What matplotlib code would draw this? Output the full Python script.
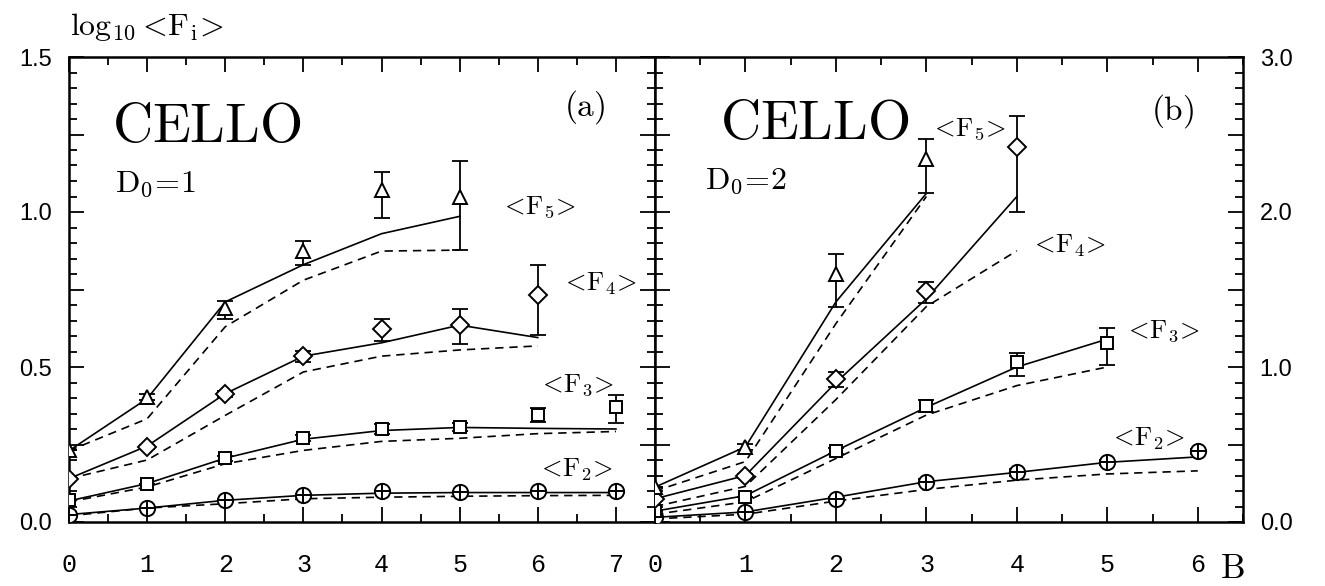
import matplotlib
matplotlib.use('Agg')
import matplotlib.pyplot as plt
from matplotlib.ticker import MultipleLocator, FuncFormatter

plt.rcParams['mathtext.fontset'] = 'cm'

# ---- panel (a): D0 = 1 ----
b_a = [0, 1, 2, 3, 4, 5, 6, 7]

f2_a = [0.024, 0.045, 0.070, 0.088, 0.100, 0.097, 0.100, 0.100]
f2_a_dn = [0, 0, 0, 0, 0, 0, 0, 0]
f2_a_up = [0, 0, 0, 0, 0, 0, 0, 0]
f2_a_solid = [0.024, 0.045, 0.070, 0.086, 0.093, 0.095, 0.095, 0.095]
f2_a_dash = [0.020, 0.045, 0.059, 0.075, 0.080, 0.083, 0.085, 0.086]

f3_a = [0.070, 0.124, 0.206, 0.270, 0.300, 0.306, 0.345, 0.370]
f3_a_dn = [0, 0, 0.008, 0.010, 0.016, 0.012, 0.022, 0.050]
f3_a_up = [0, 0, 0.008, 0.010, 0.016, 0.012, 0.022, 0.040]
f3_a_solid = [0.068, 0.124, 0.206, 0.267, 0.295, 0.305, 0.302, 0.300]
f3_a_dash = [0.065, 0.113, 0.188, 0.231, 0.260, 0.270, 0.285, 0.292]

b_a4 = [0, 1, 2, 3, 4, 5, 6]
f4_a = [0.140, 0.242, 0.414, 0.535, 0.624, 0.637, 0.731]
f4_a_dn = [0, 0.008, 0.010, 0.018, 0.040, 0.062, 0.128]
f4_a_up = [0, 0.008, 0.010, 0.018, 0.030, 0.050, 0.097]
f4_a_solid = [0.140, 0.245, 0.414, 0.535, 0.578, 0.635, 0.595]
f4_a_dash = [0.140, 0.200, 0.344, 0.484, 0.535, 0.555, 0.568]

b_a5 = [0, 1, 2, 3, 4, 5]
f5_a = [0.231, 0.403, 0.690, 0.873, 1.070, 1.048]
f5_a_dn = [0, 0.010, 0.034, 0.045, 0.090, 0.170]
f5_a_up = [0, 0.010, 0.023, 0.032, 0.060, 0.115]
f5_a_solid = [0.230, 0.398, 0.710, 0.830, 0.930, 0.986]
f5_a_dash = [0.230, 0.333, 0.630, 0.780, 0.874, 0.877]

# ---- panel (b): D0 = 2 ----
b_b2 = [0, 1, 2, 3, 4, 5, 6]
f2_b = [0.030, 0.065, 0.150, 0.260, 0.320, 0.385, 0.455]
f2_b_dn = [0, 0, 0.010, 0.015, 0.020, 0.015, 0.015]
f2_b_up = [0, 0, 0.010, 0.015, 0.020, 0.015, 0.015]
f2_b_solid = [0.030, 0.065, 0.160, 0.260, 0.320, 0.385, 0.420]
f2_b_dash = [0.020, 0.050, 0.135, 0.210, 0.270, 0.310, 0.330]

b_b3 = [0, 1, 2, 3, 4, 5]
f3_b = [0.070, 0.160, 0.460, 0.750, 1.030, 1.155]
f3_b_dn = [0, 0, 0.020, 0.040, 0.090, 0.145]
f3_b_up = [0, 0, 0.020, 0.040, 0.060, 0.095]
f3_b_solid = [0.070, 0.170, 0.460, 0.740, 1.000, 1.180]
f3_b_dash = [0.050, 0.130, 0.410, 0.690, 0.880, 1.000]

b_b4 = [0, 1, 2, 3, 4]
f4_b = [0.150, 0.300, 0.920, 1.490, 2.420]
f4_b_dn = [0, 0.010, 0.050, 0.080, 0.420]
f4_b_up = [0, 0.010, 0.050, 0.060, 0.200]
f4_b_solid = [0.150, 0.300, 0.900, 1.440, 2.100]
f4_b_dash = [0.100, 0.230, 0.790, 1.390, 1.750]

b_b5 = [0, 1, 2, 3]
f5_b = [0.225, 0.485, 1.600, 2.340]
f5_b_dn = [0, 0.020, 0.210, 0.220]
f5_b_up = [0, 0.020, 0.130, 0.130]
f5_b_solid = [0.225, 0.485, 1.420, 2.120]
f5_b_dash = [0.200, 0.390, 1.280, 2.100]


def draw_moment(ax, b, vals, dn, up, solid, dashed, marker, ms):
    ax.plot(b, solid, color='k', lw=1.2, zorder=2)
    ax.plot(b, dashed, color='k', lw=1.2, ls=(0, (5, 3.5)), zorder=2)
    ax.errorbar(b, vals, yerr=[dn, up], fmt='none', ecolor='k',
                elinewidth=1.3, capsize=6, capthick=1.3, zorder=3)
    if marker == 'oplus':
        ax.plot(b, vals, 'o', ms=ms, mfc='white', mec='k', mew=1.4, ls='none', zorder=4)
        ax.plot(b, vals, '+', ms=ms, mec='k', mew=1.4, ls='none', zorder=5)
    else:
        ax.plot(b, vals, marker, ms=ms, mfc='white', mec='k', mew=1.4, ls='none', zorder=4)


def style_axes(ax, ymax, ymajor, yminor, ylab_step, xmax):
    ax.set_xlim(0, xmax)
    ax.set_ylim(0, ymax)
    ax.xaxis.set_major_locator(MultipleLocator(1))
    ax.xaxis.set_minor_locator(MultipleLocator(0.5))
    ax.yaxis.set_major_locator(MultipleLocator(ymajor))
    ax.yaxis.set_minor_locator(MultipleLocator(yminor))
    ax.yaxis.set_major_formatter(FuncFormatter(
        lambda v, _: f'{v:.1f}' if abs(v / ylab_step - round(v / ylab_step)) < 1e-6 else ''))
    ax.tick_params(which='both', direction='in', top=True, bottom=True,
                   left=True, right=True, width=1.3)
    ax.tick_params(which='major', length=11)
    ax.tick_params(which='minor', length=6)
    ax.tick_params(axis='x', pad=22, labelsize=18, labelfontfamily='Liberation Mono')
    ax.tick_params(axis='y', pad=12, labelsize=17, labelfontfamily='Liberation Sans')
    for s in ax.spines.values():
        s.set_linewidth(1.8)


fig = plt.figure(figsize=(13.25, 5.86), dpi=100)
ax_a = fig.add_axes([69 / 1325, 1 - 522 / 586, (655 - 69) / 1325, (522 - 57) / 586])
ax_b = fig.add_axes([655 / 1325, 1 - 522 / 586, (1243 - 655) / 1325, (522 - 57) / 586])

draw_moment(ax_a, b_a, f2_a, f2_a_dn, f2_a_up, f2_a_solid, f2_a_dash, 'oplus', 11)
draw_moment(ax_a, b_a, f3_a, f3_a_dn, f3_a_up, f3_a_solid, f3_a_dash, 's', 8)
draw_moment(ax_a, b_a4, f4_a, f4_a_dn, f4_a_up, f4_a_solid, f4_a_dash, 'D', 9)
draw_moment(ax_a, b_a5, f5_a, f5_a_dn, f5_a_up, f5_a_solid, f5_a_dash, '^', 10)

draw_moment(ax_b, b_b2, f2_b, f2_b_dn, f2_b_up, f2_b_solid, f2_b_dash, 'oplus', 11)
draw_moment(ax_b, b_b3, f3_b, f3_b_dn, f3_b_up, f3_b_solid, f3_b_dash, 's', 8)
draw_moment(ax_b, b_b4, f4_b, f4_b_dn, f4_b_up, f4_b_solid, f4_b_dash, 'D', 9)
draw_moment(ax_b, b_b5, f5_b, f5_b_dn, f5_b_up, f5_b_solid, f5_b_dash, '^', 10)

style_axes(ax_a, 1.5, 0.25, 0.05, 0.5, 7.5)
style_axes(ax_b, 3.0, 0.5, 0.1, 1.0, 6.5)
ax_b.tick_params(axis='y', labelleft=False, labelright=True)

# panel texts
ax_a.text(0.55, 1.226, r'$\mathrm{CELLO}$', fontsize=40, va='baseline')
ax_a.text(0.59, 1.065, r'$\mathrm{D}_0\!=\!1$', fontsize=23, va='baseline')
ax_a.text(6.6, 1.34, r'$\mathrm{(a)}$', fontsize=24, ha='center', va='center')
ax_a.text(6.0, 1.016, r'$<\!\mathrm{F}_5\!>$', fontsize=19, ha='center', va='center')
ax_a.text(6.79, 0.768, r'$<\!\mathrm{F}_4\!>$', fontsize=19, ha='center', va='center')
ax_a.text(6.49, 0.442, r'$<\!\mathrm{F}_3\!>$', fontsize=19, ha='center', va='center')
ax_a.text(6.48, 0.168, r'$<\!\mathrm{F}_2\!>$', fontsize=19, ha='center', va='center')

ax_b.text(0.72, 2.47, r'$\mathrm{CELLO}$', fontsize=40, va='baseline')
ax_b.text(0.55, 2.15, r'$\mathrm{D}_0\!=\!2$', fontsize=23, va='baseline')
ax_b.text(5.72, 2.65, r'$\mathrm{(b)}$', fontsize=24, ha='center', va='center')
ax_b.text(3.46, 2.535, r'$<\!\mathrm{F}_5\!>$', fontsize=19, ha='center', va='center')
ax_b.text(4.57, 1.78, r'$<\!\mathrm{F}_4\!>$', fontsize=19, ha='center', va='center')
ax_b.text(5.61, 1.23, r'$<\!\mathrm{F}_3\!>$', fontsize=19, ha='center', va='center')
ax_b.text(5.44, 0.535, r'$<\!\mathrm{F}_2\!>$', fontsize=19, ha='center', va='center')

fig.text(70 / 1325, 1 - 35 / 586, r'$\log_{10}\!<\!\mathrm{F_i}\!>$', fontsize=23, va='baseline')
fig.text(1232 / 1325, 1 - 578 / 586, r'$\mathrm{B}$', fontsize=25, ha='center', va='baseline')

fig.savefig('out.png', dpi=100)
